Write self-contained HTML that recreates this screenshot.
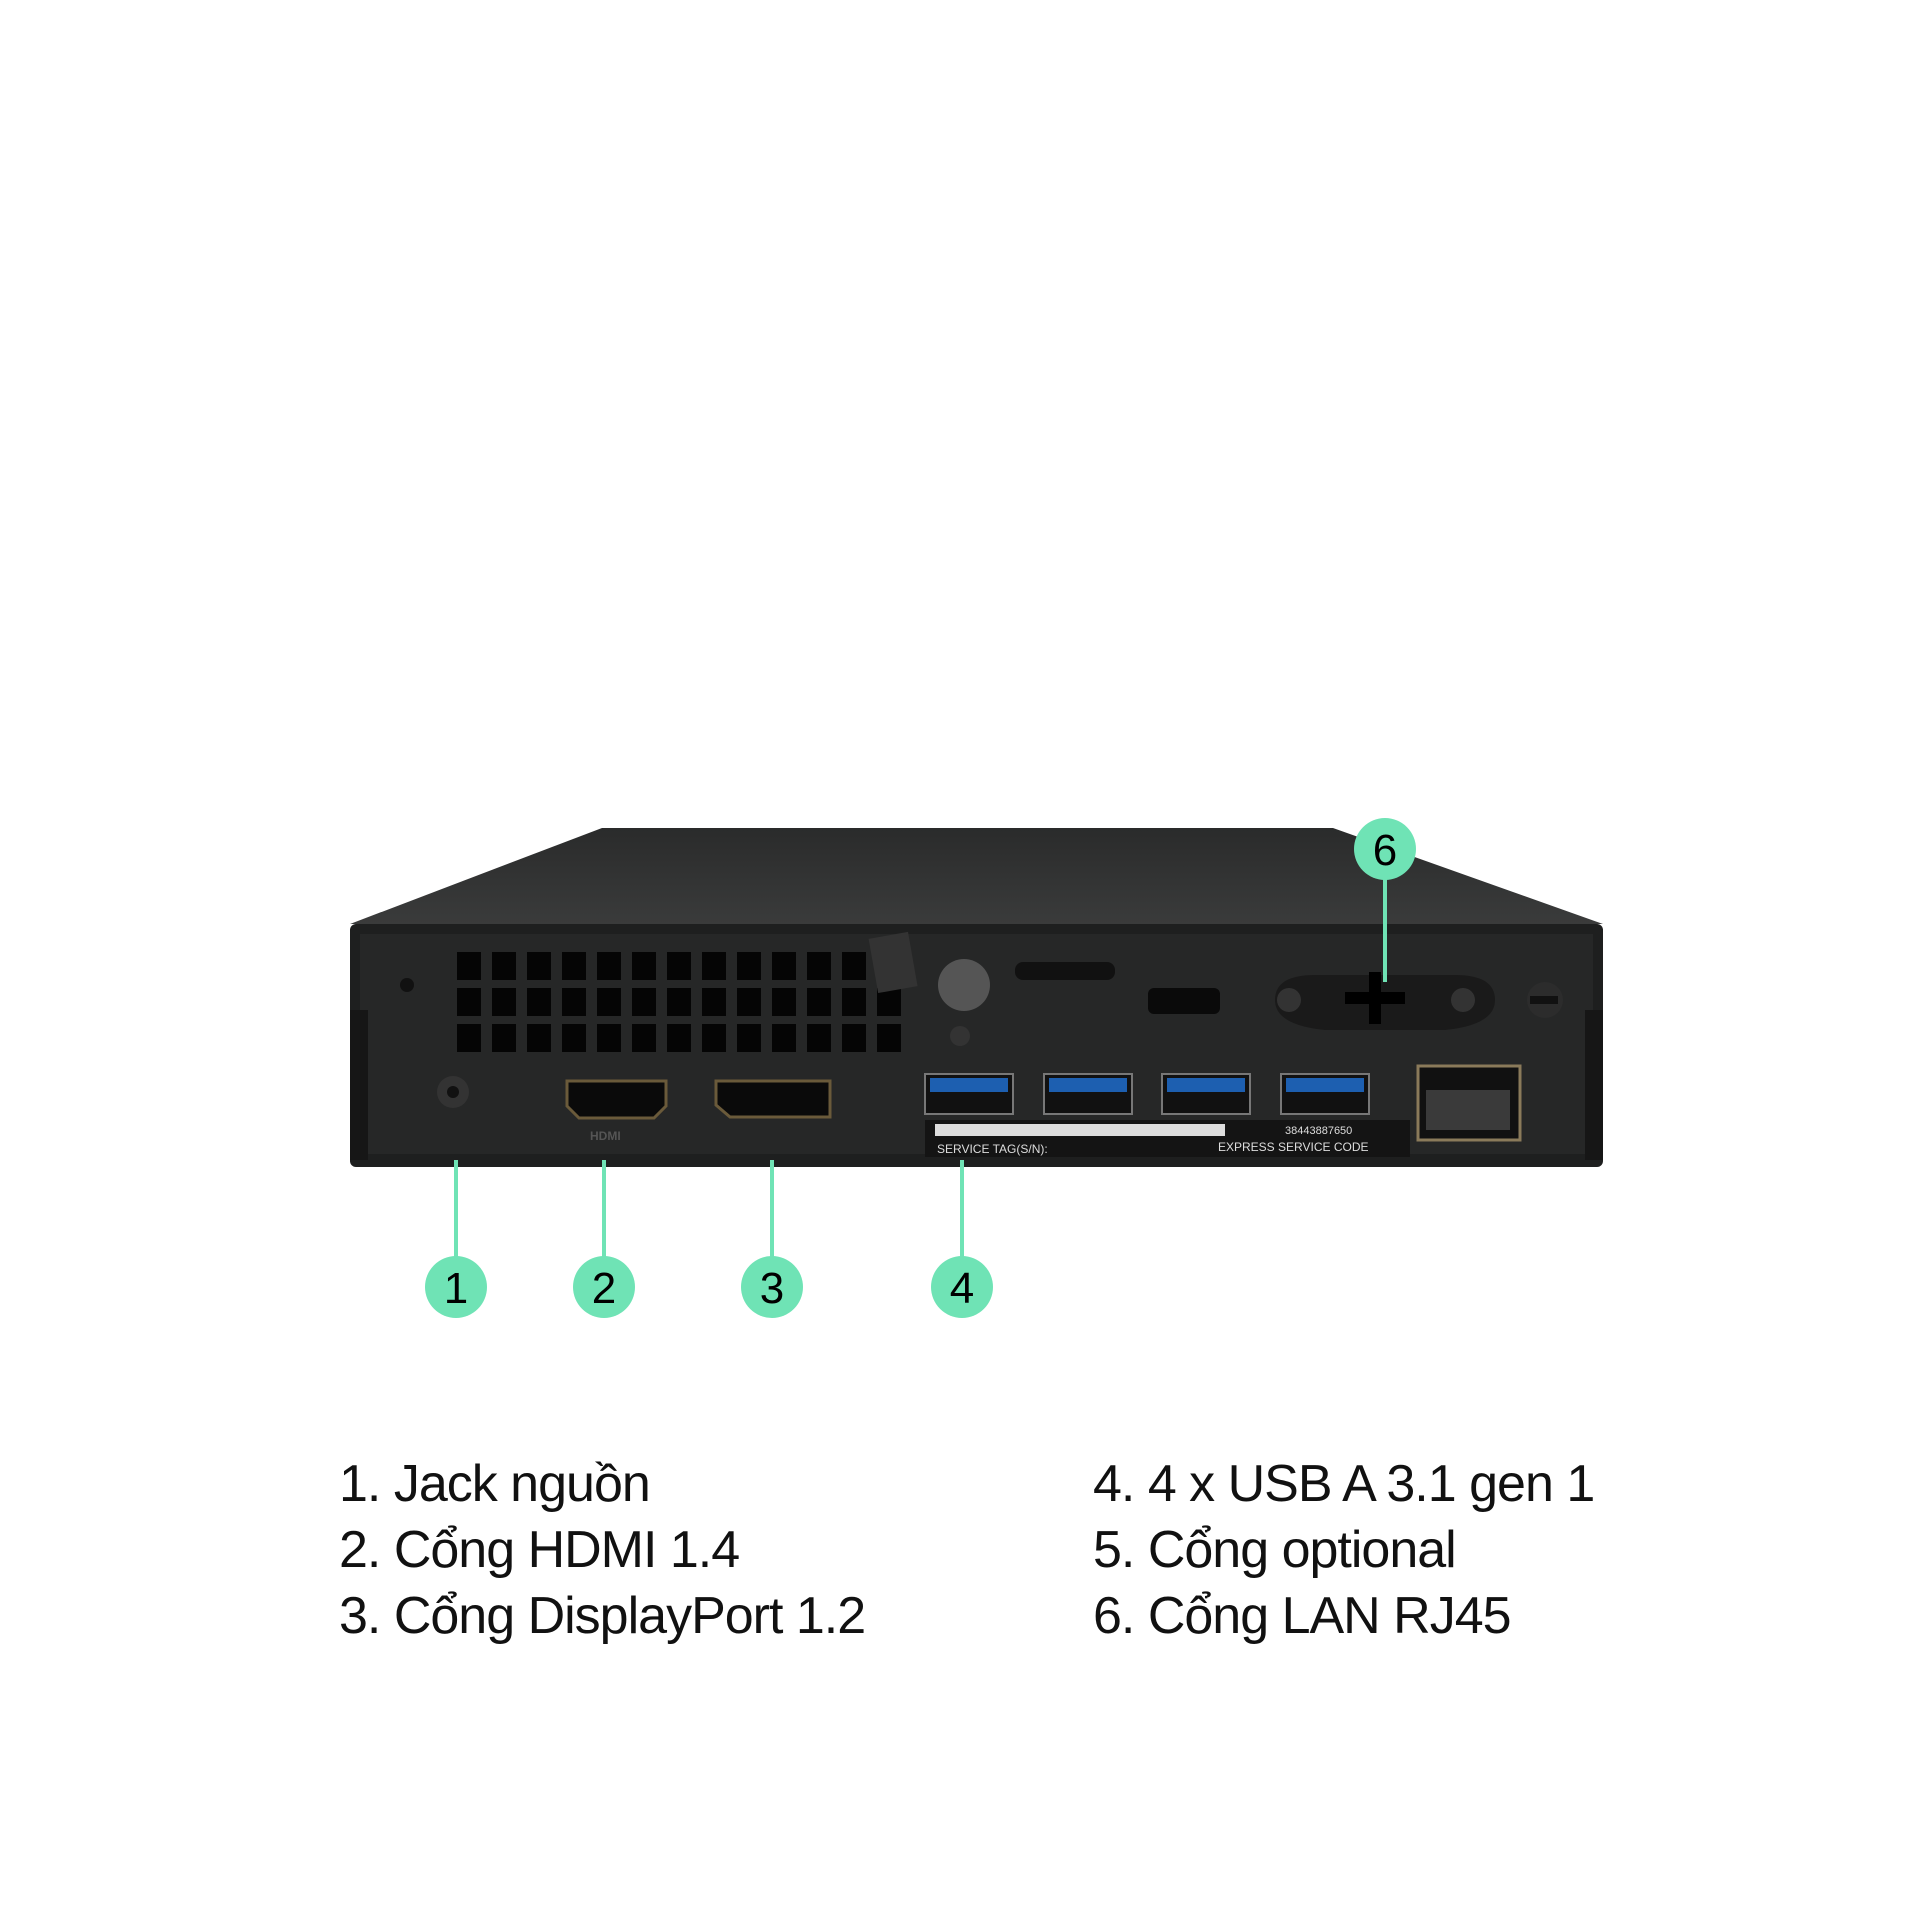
<!DOCTYPE html>
<html><head><meta charset="utf-8"><style>
html,body{margin:0;padding:0;background:#fff}
body{width:1920px;height:1920px;position:relative;overflow:hidden;font-family:"Liberation Sans","DejaVu Sans",sans-serif}
.t{position:absolute;font-size:52px;color:#111;line-height:66px;white-space:nowrap;letter-spacing:-1px}
</style></head><body>
<svg width="1920" height="1920" style="position:absolute;left:0;top:0">
<defs>
<linearGradient id="top" x1="0" y1="0" x2="0" y2="1"><stop offset="0" stop-color="#2a2b2b"/><stop offset="1" stop-color="#3a3b3b"/></linearGradient>
</defs>
<polygon points="602,828 1333,828 1603,924 350,924" fill="url(#top)"/>
<rect x="350" y="924" width="1253" height="243" rx="6" fill="#1e1f1f"/>
<rect x="360" y="934" width="1233" height="220" fill="#262727"/>
<rect x="350" y="1010" width="18" height="150" fill="#161616"/>
<rect x="1585" y="1010" width="18" height="150" fill="#161616"/>
<g fill="#050505">
<g id="row">
<rect x="457" y="952" width="24" height="28"/><rect x="492" y="952" width="24" height="28"/><rect x="527" y="952" width="24" height="28"/><rect x="562" y="952" width="24" height="28"/><rect x="597" y="952" width="24" height="28"/><rect x="632" y="952" width="24" height="28"/><rect x="667" y="952" width="24" height="28"/><rect x="702" y="952" width="24" height="28"/><rect x="737" y="952" width="24" height="28"/><rect x="772" y="952" width="24" height="28"/><rect x="807" y="952" width="24" height="28"/><rect x="842" y="952" width="24" height="28"/><rect x="877" y="952" width="24" height="28"/>
</g>
<use href="#row" y="36"/><use href="#row" y="72"/>
</g>
<rect x="873" y="935" width="40" height="55" fill="#333" transform="rotate(-10 893 962)"/>
<circle cx="964" cy="985" r="26" fill="#555"/><circle cx="960" cy="1036" r="10" fill="#333"/>
<rect x="1015" y="962" width="100" height="18" rx="8" fill="#111"/>
<rect x="1148" y="988" width="72" height="26" rx="6" fill="#0a0a0a"/>
<path d="M1275,1000 q0,-25 40,-25 h140 q40,0 40,25 q0,25 -50,30 h-120 q-50,-5 -50,-30z" fill="#1a1a1a"/>
<circle cx="1289" cy="1000" r="12" fill="#333"/><circle cx="1463" cy="1000" r="12" fill="#333"/>
<rect x="1345" y="992" width="60" height="12" fill="#000"/><rect x="1369" y="972" width="12" height="52" fill="#000"/>
<circle cx="1545" cy="1000" r="18" fill="#2c2c2c"/><rect x="1530" y="996" width="28" height="8" fill="#111"/>
<circle cx="407" cy="985" r="7" fill="#111"/>
<circle cx="453" cy="1092" r="16" fill="#333"/><circle cx="453" cy="1092" r="6" fill="#111"/>
<path d="M567,1081 h99 v25 l-12,12 h-75 l-12,-12z" fill="#0a0a0a" stroke="#6a5a3a" stroke-width="3"/>
<path d="M716,1081 h114 v36 h-100 l-14,-12z" fill="#0a0a0a" stroke="#6a5a3a" stroke-width="3"/>
<g>
<rect x="925" y="1074" width="88" height="40" fill="#111" stroke="#777" stroke-width="2"/><rect x="930" y="1078" width="78" height="14" fill="#1d5fb0"/>
<rect x="1044" y="1074" width="88" height="40" fill="#111" stroke="#777" stroke-width="2"/><rect x="1049" y="1078" width="78" height="14" fill="#1d5fb0"/>
<rect x="1162" y="1074" width="88" height="40" fill="#111" stroke="#777" stroke-width="2"/><rect x="1167" y="1078" width="78" height="14" fill="#1d5fb0"/>
<rect x="1281" y="1074" width="88" height="40" fill="#111" stroke="#777" stroke-width="2"/><rect x="1286" y="1078" width="78" height="14" fill="#1d5fb0"/>
</g>
<rect x="925" y="1120" width="485" height="37" fill="#141414"/>
<rect x="935" y="1124" width="290" height="12" fill="#ddd"/>
<text x="937" y="1153" fill="#ddd" font-size="12">SERVICE TAG(S/N):</text>
<text x="1285" y="1134" fill="#ddd" font-size="11">38443887650</text>
<text x="1218" y="1151" fill="#ddd" font-size="12">EXPRESS SERVICE CODE</text>
<rect x="1418" y="1066" width="102" height="74" fill="#111" stroke="#8a7a5a" stroke-width="3"/>
<rect x="1426" y="1090" width="84" height="40" fill="#3a3a3a"/>
<text x="590" y="1140" fill="#555" font-size="12" font-weight="bold">HDMI</text>
<g stroke="#6fe3b5" stroke-width="4">
<line x1="456" y1="1160" x2="456" y2="1260"/><line x1="604" y1="1160" x2="604" y2="1260"/>
<line x1="772" y1="1160" x2="772" y2="1260"/><line x1="962" y1="1160" x2="962" y2="1260"/>
<line x1="1385" y1="870" x2="1385" y2="982"/>
</g>
<g fill="#6fe3b5">
<circle cx="456" cy="1287" r="31"/><circle cx="604" cy="1287" r="31"/><circle cx="772" cy="1287" r="31"/><circle cx="962" cy="1287" r="31"/><circle cx="1385" cy="849" r="31"/>
</g>
<g font-size="44" fill="#000" text-anchor="middle">
<text x="456" y="1303">1</text><text x="604" y="1303">2</text><text x="772" y="1303">3</text><text x="962" y="1303">4</text><text x="1385" y="865">6</text>
</g>
</svg>
<div class="t" style="left:339px;top:1451px">1. Jack nguồn<br>2. Cổng HDMI 1.4<br>3. Cổng DisplayPort 1.2</div>
<div class="t" style="left:1093px;top:1451px">4. 4 x USB A 3.1 gen 1<br>5. Cổng optional<br>6. Cổng LAN RJ45</div>
</body></html>
